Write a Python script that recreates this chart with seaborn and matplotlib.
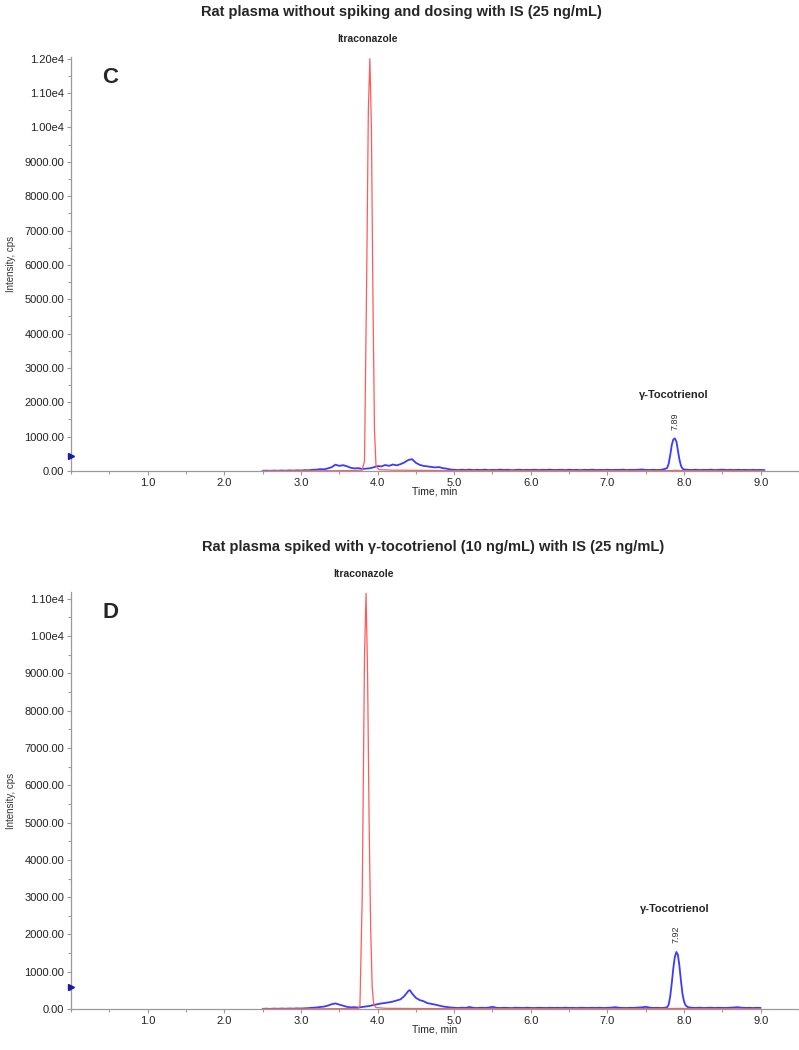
import matplotlib
matplotlib.use("Agg")
import matplotlib.pyplot as plt
import seaborn as sns
from matplotlib.ticker import FuncFormatter, MultipleLocator, FixedLocator

# --- panel C: blank plasma + IS ---
c_blue_t = [2.50, 2.55, 2.60, 2.65, 2.70, 2.75, 2.80, 2.85, 2.90, 2.95,
            3.00, 3.05, 3.10, 3.15, 3.20, 3.25, 3.30, 3.35, 3.40, 3.45,
            3.50, 3.55, 3.60, 3.65, 3.70, 3.75, 3.80, 3.85, 3.90, 3.95,
            4.00, 4.05, 4.10, 4.15, 4.20, 4.25, 4.30, 4.35, 4.40, 4.45,
            4.50, 4.55, 4.60, 4.65, 4.70, 4.75, 4.80, 4.85, 4.90, 4.95,
            5.00, 5.05, 5.10, 5.15, 5.20, 5.25, 5.30, 5.35, 5.40, 5.45,
            5.50, 5.55, 5.60, 5.65, 5.70, 5.75, 5.80, 5.85, 5.90, 5.95,
            6.00, 6.05, 6.10, 6.15, 6.20, 6.25, 6.30, 6.35, 6.40, 6.45,
            6.50, 6.55, 6.60, 6.65, 6.70, 6.75, 6.80, 6.85, 6.90, 6.95,
            7.00, 7.05, 7.10, 7.15, 7.20, 7.25, 7.30, 7.35, 7.40, 7.45,
            7.50, 7.55, 7.60, 7.65, 7.70, 7.75, 7.78, 7.80, 7.82, 7.84,
            7.86, 7.88, 7.90, 7.92, 7.94, 7.96, 7.98, 8.00, 8.05, 8.10,
            8.15, 8.20, 8.25, 8.30, 8.35, 8.40, 8.45, 8.50, 8.55, 8.60,
            8.65, 8.70, 8.75, 8.80, 8.85, 8.90, 8.95, 9.00, 9.05]
c_blue_y = [8, 12, 6, 14, 9, 16, 10, 18, 12, 20,
            15, 25, 22, 35, 40, 55, 50, 75, 110, 185,
            150, 170, 140, 95, 75, 85, 60, 70, 80, 110,
            145, 135, 175, 150, 190, 165, 200, 250, 320, 345,
            240, 180, 150, 135, 120, 105, 115, 85, 70, 45,
            35, 28, 38, 30, 42, 27, 35, 30, 40, 26,
            34, 29, 41, 30, 36, 25, 33, 38, 28, 34,
            30, 37, 27, 35, 31, 40, 29, 33, 36, 27,
            38, 30, 34, 26, 35, 31, 39, 28, 33, 30,
            37, 29, 35, 32, 40, 28, 34, 31, 38, 45,
            33, 30, 36, 29, 35, 60, 90, 220, 470, 760,
            920, 950, 860, 600, 330, 150, 70, 45, 35, 30,
            38, 28, 34, 31, 39, 27, 33, 40, 30, 35,
            28, 36, 30, 33, 27, 35, 30, 32, 28]
c_red_t = [2.50, 3.00, 3.50, 3.70, 3.80, 3.83, 3.86, 3.88, 3.90, 3.92,
           3.94, 3.96, 3.98, 4.02, 4.20, 4.50, 5.00, 6.00, 7.00, 7.80,
           7.90, 8.00, 9.05]
c_red_y = [5, 5, 10, 15, 25, 300, 6000, 10500, 12000, 10000,
           5000, 1200, 150, 40, 25, 20, 12, 10, 8, 12,
           20, 10, 5]

# --- panel D: spiked plasma + IS ---
d_blue_t = [2.50, 2.55, 2.60, 2.65, 2.70, 2.75, 2.80, 2.85, 2.90, 2.95,
            3.00, 3.05, 3.10, 3.15, 3.20, 3.25, 3.30, 3.35, 3.40, 3.45,
            3.50, 3.55, 3.60, 3.65, 3.70, 3.75, 3.80, 3.85, 3.90, 3.95,
            4.00, 4.05, 4.10, 4.15, 4.20, 4.25, 4.30, 4.35, 4.40, 4.42,
            4.45, 4.50, 4.55, 4.60, 4.65, 4.70, 4.75, 4.80, 4.85, 4.90,
            4.95, 5.00, 5.05, 5.10, 5.15, 5.20, 5.25, 5.30, 5.35, 5.40,
            5.45, 5.50, 5.55, 5.60, 5.65, 5.70, 5.75, 5.80, 5.85, 5.90,
            5.95, 6.00, 6.05, 6.10, 6.15, 6.20, 6.25, 6.30, 6.35, 6.40,
            6.45, 6.50, 6.55, 6.60, 6.65, 6.70, 6.75, 6.80, 6.85, 6.90,
            6.95, 7.00, 7.05, 7.10, 7.15, 7.20, 7.25, 7.30, 7.35, 7.40,
            7.45, 7.50, 7.55, 7.60, 7.65, 7.70, 7.75, 7.78, 7.80, 7.82,
            7.84, 7.86, 7.88, 7.90, 7.92, 7.94, 7.96, 7.98, 8.00, 8.02,
            8.05, 8.10, 8.15, 8.20, 8.25, 8.30, 8.35, 8.40, 8.45, 8.50,
            8.55, 8.60, 8.65, 8.70, 8.75, 8.80, 8.85, 8.90, 8.95, 9.00]
d_blue_y = [6, 10, 5, 12, 8, 14, 9, 15, 11, 18,
            14, 20, 25, 35, 40, 55, 65, 90, 130, 150,
            120, 90, 60, 45, 50, 40, 55, 70, 85, 110,
            130, 150, 165, 180, 200, 230, 260, 350, 480, 510,
            420, 300, 240, 210, 160, 140, 120, 95, 70, 55,
            42, 35, 28, 36, 30, 55, 32, 27, 35, 30,
            38, 60, 33, 28, 34, 30, 26, 35, 31, 29,
            36, 30, 27, 34, 31, 28, 35, 30, 33, 29,
            36, 30, 32, 27, 35, 31, 29, 34, 30, 36,
            28, 33, 38, 50, 35, 30, 28, 34, 31, 40,
            45, 60, 38, 30, 33, 29, 35, 50, 120, 350,
            700, 1100, 1400, 1530, 1450, 1150, 750, 400, 200, 100,
            50, 35, 30, 38, 28, 33, 36, 29, 34, 31,
            30, 35, 42, 50, 36, 30, 33, 28, 34, 30]
d_red_t = [2.50, 3.00, 3.50, 3.70, 3.75, 3.77, 3.80, 3.83, 3.85, 3.87,
           3.89, 3.91, 3.93, 3.95, 3.98, 4.10, 4.50, 5.00, 6.00, 7.00,
           7.85, 7.95, 8.10, 9.00]
d_red_y = [5, 5, 10, 15, 20, 80, 3000, 9500, 11150, 9000,
           5000, 2200, 600, 120, 40, 20, 15, 12, 10, 8,
           15, 18, 10, 5]

panels = [
    dict(letter="C", title="Rat plasma without spiking and dosing with IS (25 ng/mL)",
         title_x=0.503, bt=c_blue_t, by=c_blue_y, rt=c_red_t, ry=c_red_y, ymax=12050,
         yticks=list(range(0, 12001, 1000)), rt_label="7.89", peak_x=3.90,
         toco_x=7.88, toco_y=950, marker_y=430),
    dict(letter="D", title="Rat plasma spiked with \u03b3-tocotrienol (10 ng/mL) with IS (25 ng/mL)",
         title_x=0.542, bt=d_blue_t, by=d_blue_y, rt=d_red_t, ry=d_red_y, ymax=11180,
         yticks=list(range(0, 11001, 1000)), rt_label="7.92", peak_x=3.85,
         toco_x=7.90, toco_y=1530, marker_y=590),
]

sns.set_theme(style="ticks")
plt.rcParams['font.family'] = ['Liberation Sans', 'DejaVu Sans']

BLUE = "#3b3bff"
RED = "#ff5a5a"
GREY = "#9a9a9a"


def yfmt(v, pos):
    if v >= 10000:
        return "%.2fe4" % (v / 10000)
    return "%.2f" % v


fig = plt.figure(figsize=(7.99, 10.5), dpi=100)
rects = [[0.0889, 0.5514, 0.9111, 0.3943], [0.0889, 0.0390, 0.9111, 0.3971]]
title_y = [1 - 12 / 1050, 1 - 547 / 1050]

for p, rect, ty in zip(panels, rects, title_y):
    ax = fig.add_axes(rect)
    sns.lineplot(x=p["bt"], y=p["by"], ax=ax, color=BLUE, lw=1.3,
                 estimator=None, sort=False)
    sns.lineplot(x=p["rt"], y=p["ry"], ax=ax, color=RED, lw=0.9,
                 estimator=None, sort=False)
    ax.set_xlim(0, 9.5)
    ax.set_ylim(0, p["ymax"])
    sns.despine(ax=ax)
    for s in ["left", "bottom"]:
        ax.spines[s].set_color(GREY)
        ax.spines[s].set_linewidth(0.9)
    ax.xaxis.set_major_locator(FixedLocator([1, 2, 3, 4, 5, 6, 7, 8, 9]))
    ax.xaxis.set_minor_locator(MultipleLocator(0.5))
    ax.xaxis.set_major_formatter(FuncFormatter(lambda v, pos: "%.1f" % v))
    ax.yaxis.set_major_locator(FixedLocator(p["yticks"]))
    ax.yaxis.set_minor_locator(MultipleLocator(500))
    ax.yaxis.set_major_formatter(FuncFormatter(yfmt))
    ax.tick_params(axis="both", which="both", direction="out", color=GREY,
                   labelsize=8, labelcolor="#222222", width=0.8)
    ax.tick_params(axis="both", which="major", length=3, pad=2)
    ax.tick_params(axis="both", which="minor", length=2)
    ax.set_xlabel("Time, min", fontsize=7.5, color="#222222", labelpad=-1)
    ax.set_ylabel("Intensity, cps", fontsize=7, color="#333333", labelpad=6)
    fig.text(p["title_x"], ty, p["title"], fontsize=10.5, fontweight="bold",
             ha="center", va="center")

    ax.plot([0], [p["marker_y"]], marker=">", color="#1a1aa8", ms=4,
            clip_on=False, zorder=5)
    ax.text(0.054, 0.95, p["letter"], transform=ax.transAxes, fontsize=16,
            fontweight="bold", ha="center", va="center")
    ax.annotate("Itraconazole", xy=(p["peak_x"], p["ymax"]), xytext=(-2, 13),
                textcoords="offset points", ha="center", va="center",
                fontsize=7.5, fontweight="bold", annotation_clip=False)
    ax.annotate(p["rt_label"], xy=(p["toco_x"], p["toco_y"]), xytext=(0, 12.5),
                textcoords="offset points", ha="center", va="center",
                rotation=90, fontsize=6.5, color="#333333")
    ax.annotate("\u03b3-Tocotrienol", xy=(p["toco_x"], p["toco_y"]),
                xytext=(-1, 31), textcoords="offset points", ha="center",
                va="center", fontsize=8, fontweight="bold")

fig.savefig("out.png", dpi=100)
